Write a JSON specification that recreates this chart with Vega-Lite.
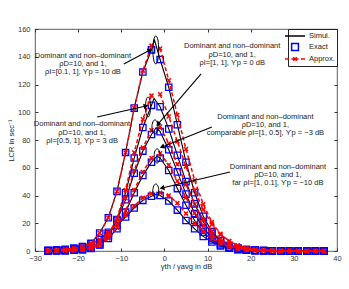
{
"$schema":"https://vega.github.io/schema/vega-lite/v6.json",
"width":302,"height":222,
"autosize":{"type":"none"},
"padding":{"left":35,"top":29,"right":12,"bottom":38},
"background":"white",
"config":{"font":"Liberation Sans","view":{"stroke":"#333","strokeWidth":0.8},
 "axis":{"labelFont":"Liberation Sans","labelFontSize":7.5,"labelColor":"#333","titleFont":"Liberation Sans","titleFontSize":7.5,"titleFontWeight":"normal","titleColor":"#222","tickColor":"#333","grid":false,"domain":false},
 "legend":{"orient":"top-right","offset":0,"padding":2,"strokeColor":"#222","fillColor":"white","labelFont":"Liberation Sans","labelFontSize":7.5,"labelColor":"#222","symbolSize":64,"symbolStrokeWidth":1.5,"symbolOpacity":1,"rowPadding":0,"labelOffset":9,"title":null,"symbolFillColor":"transparent"}},
"datasets":{
"curves":[
{"c":1,"x":-27,"sim":0.3,"ex":0.3,"ap":0.3},{"c":1,"x":-25,"sim":0.5,"ex":0.5,"ap":0.5},{"c":1,"x":-23,"sim":0.8,"ex":0.8,"ap":0.8},{"c":1,"x":-21,"sim":1.5,"ex":1.5,"ap":1.5},{"c":1,"x":-19,"sim":2.7,"ex":2.7,"ap":2.7},{"c":1,"x":-17,"sim":5.5,"ex":5.5,"ap":5.5},{"c":1,"x":-15,"sim":13,"ex":13,"ap":13},{"c":1,"x":-13,"sim":24,"ex":24,"ap":24},{"c":1,"x":-11,"sim":43,"ex":43,"ap":43},{"c":1,"x":-9,"sim":71,"ex":71,"ap":71},{"c":1,"x":-7,"sim":103,"ex":103,"ap":103},{"c":1,"x":-5,"sim":129,"ex":129,"ap":130},{"c":1,"x":-3,"sim":145,"ex":145,"ap":148},{"c":1,"x":-2.3,"sim":152},{"c":1,"x":-1,"sim":138,"ex":138,"ap":146},{"c":1,"x":1,"sim":118,"ex":118,"ap":123},{"c":1,"x":3,"sim":91,"ex":91,"ap":98},{"c":1,"x":5,"sim":64,"ex":64,"ap":73.5},{"c":1,"x":7,"sim":42,"ex":42,"ap":51},{"c":1,"x":9,"sim":25,"ex":25,"ap":33.7},{"c":1,"x":11,"sim":14,"ex":14,"ap":20.8},{"c":1,"x":13,"sim":7.6,"ex":7.6,"ap":12.4},{"c":1,"x":15,"sim":4,"ex":4,"ap":7},{"c":1,"x":17,"sim":2,"ex":2,"ap":3.8},{"c":1,"x":19,"sim":1,"ex":1,"ap":2},{"c":1,"x":21,"sim":0.5,"ex":0.5,"ap":1.1},{"c":1,"x":23,"sim":0.3,"ex":0.3,"ap":0.6},{"c":1,"x":25,"sim":0.2,"ex":0.2,"ap":0.3},{"c":1,"x":27,"sim":0.1,"ex":0.1,"ap":0.15},{"c":1,"x":29,"sim":0,"ex":0,"ap":0.1},{"c":1,"x":31,"sim":0,"ex":0,"ap":0},{"c":1,"x":33,"sim":0,"ex":0,"ap":0},{"c":1,"x":35,"sim":0,"ex":0,"ap":0},{"c":1,"x":37,"sim":0,"ex":0,"ap":0},
{"c":2,"x":-27,"sim":0.1,"ex":0.1,"ap":0.1},{"c":2,"x":-25,"sim":0.2,"ex":0.2,"ap":0.2},{"c":2,"x":-23,"sim":0.3,"ex":0.3,"ap":0.3},{"c":2,"x":-21,"sim":0.5,"ex":0.5,"ap":0.5},{"c":2,"x":-19,"sim":1,"ex":1,"ap":1},{"c":2,"x":-17,"sim":2,"ex":2,"ap":2},{"c":2,"x":-15,"sim":4.4,"ex":4.4,"ap":4.4},{"c":2,"x":-13,"sim":11,"ex":11,"ap":11},{"c":2,"x":-11,"sim":22.6,"ex":22.6,"ap":23.5},{"c":2,"x":-9,"sim":42,"ex":42,"ap":44},{"c":2,"x":-7,"sim":67,"ex":67,"ap":71},{"c":2,"x":-5,"sim":89,"ex":89,"ap":95},{"c":2,"x":-3,"sim":105,"ex":105,"ap":112},{"c":2,"x":-2.4,"sim":110},{"c":2,"x":-1,"sim":104,"ex":104,"ap":113},{"c":2,"x":1,"sim":88,"ex":88,"ap":97},{"c":2,"x":3,"sim":69,"ex":69,"ap":79},{"c":2,"x":5,"sim":50,"ex":50,"ap":61},{"c":2,"x":7,"sim":34,"ex":34,"ap":43.7},{"c":2,"x":9,"sim":21,"ex":21,"ap":30},{"c":2,"x":11,"sim":12.6,"ex":12.6,"ap":19.2},{"c":2,"x":13,"sim":7.3,"ex":7.3,"ap":11.8},{"c":2,"x":15,"sim":4,"ex":4,"ap":7.2},{"c":2,"x":17,"sim":2.1,"ex":2.1,"ap":4.1},{"c":2,"x":19,"sim":1.1,"ex":1.1,"ap":2.2},{"c":2,"x":21,"sim":0.6,"ex":0.6,"ap":1.2},{"c":2,"x":23,"sim":0.3,"ex":0.3,"ap":0.7},{"c":2,"x":25,"sim":0.2,"ex":0.2,"ap":0.35},{"c":2,"x":27,"sim":0.1,"ex":0.1,"ap":0.2},{"c":2,"x":29,"sim":0,"ex":0,"ap":0.1},{"c":2,"x":31,"sim":0,"ex":0,"ap":0},{"c":2,"x":33,"sim":0,"ex":0,"ap":0},{"c":2,"x":35,"sim":0,"ex":0,"ap":0},{"c":2,"x":37,"sim":0,"ex":0,"ap":0},
{"c":3,"x":-27,"sim":0.2,"ex":0.2,"ap":0.2},{"c":3,"x":-25,"sim":0.3,"ex":0.3,"ap":0.3},{"c":3,"x":-23,"sim":0.4,"ex":0.4,"ap":0.4},{"c":3,"x":-21,"sim":0.8,"ex":0.8,"ap":0.8},{"c":3,"x":-19,"sim":1.4,"ex":1.4,"ap":1.4},{"c":3,"x":-17,"sim":2.7,"ex":2.7,"ap":2.7},{"c":3,"x":-15,"sim":6.2,"ex":6.2,"ap":6.2},{"c":3,"x":-13,"sim":12.3,"ex":12.3,"ap":12.3},{"c":3,"x":-11,"sim":22,"ex":22,"ap":23},{"c":3,"x":-9,"sim":37,"ex":37,"ap":38},{"c":3,"x":-7,"sim":56,"ex":56,"ap":58},{"c":3,"x":-5,"sim":72,"ex":72,"ap":74.5},{"c":3,"x":-3,"sim":84,"ex":84,"ap":87},{"c":3,"x":-1.9,"sim":89},{"c":3,"x":-1,"sim":86,"ex":86,"ap":89.5},{"c":3,"x":1,"sim":73,"ex":73,"ap":77.5},{"c":3,"x":3,"sim":57,"ex":57,"ap":62.5},{"c":3,"x":5,"sim":41,"ex":41,"ap":48},{"c":3,"x":7,"sim":27,"ex":27,"ap":33.7},{"c":3,"x":9,"sim":16.6,"ex":16.6,"ap":22.7},{"c":3,"x":11,"sim":9.5,"ex":9.5,"ap":14.2},{"c":3,"x":13,"sim":5.2,"ex":5.2,"ap":8.5},{"c":3,"x":15,"sim":2.7,"ex":2.7,"ap":4.8},{"c":3,"x":17,"sim":1.4,"ex":1.4,"ap":2.7},{"c":3,"x":19,"sim":0.7,"ex":0.7,"ap":1.5},{"c":3,"x":21,"sim":0.4,"ex":0.4,"ap":0.8},{"c":3,"x":23,"sim":0.25,"ex":0.25,"ap":0.45},{"c":3,"x":25,"sim":0.15,"ex":0.15,"ap":0.25},{"c":3,"x":27,"sim":0.1,"ex":0.1,"ap":0.15},{"c":3,"x":29,"sim":0,"ex":0,"ap":0.1},{"c":3,"x":31,"sim":0,"ex":0,"ap":0},{"c":3,"x":33,"sim":0,"ex":0,"ap":0},{"c":3,"x":35,"sim":0,"ex":0,"ap":0},{"c":3,"x":37,"sim":0,"ex":0,"ap":0},
{"c":4,"x":-27,"sim":0.14,"ex":0.14,"ap":0.14},{"c":4,"x":-25,"sim":0.2,"ex":0.2,"ap":0.2},{"c":4,"x":-23,"sim":0.3,"ex":0.3,"ap":0.3},{"c":4,"x":-21,"sim":0.55,"ex":0.55,"ap":0.55},{"c":4,"x":-19,"sim":1,"ex":1,"ap":1},{"c":4,"x":-17,"sim":1.9,"ex":1.9,"ap":1.9},{"c":4,"x":-15,"sim":4.5,"ex":4.5,"ap":4.5},{"c":4,"x":-13,"sim":9,"ex":9,"ap":9},{"c":4,"x":-11,"sim":16,"ex":16,"ap":16.7},{"c":4,"x":-9,"sim":28,"ex":28,"ap":29},{"c":4,"x":-7,"sim":42,"ex":42,"ap":44},{"c":4,"x":-5,"sim":54.5,"ex":54.5,"ap":57},{"c":4,"x":-3,"sim":64,"ex":64,"ap":67},{"c":4,"x":-1.7,"sim":68.5},{"c":4,"x":-1,"sim":67,"ex":67,"ap":70.4},{"c":4,"x":1,"sim":58,"ex":58,"ap":62},{"c":4,"x":3,"sim":45,"ex":45,"ap":50.4},{"c":4,"x":5,"sim":33,"ex":33,"ap":38.5},{"c":4,"x":7,"sim":22,"ex":22,"ap":27.4},{"c":4,"x":9,"sim":13.6,"ex":13.6,"ap":18.6},{"c":4,"x":11,"sim":7.9,"ex":7.9,"ap":11.5},{"c":4,"x":13,"sim":4.3,"ex":4.3,"ap":6.9},{"c":4,"x":15,"sim":2.3,"ex":2.3,"ap":3.9},{"c":4,"x":17,"sim":1.1,"ex":1.1,"ap":2.2},{"c":4,"x":19,"sim":0.55,"ex":0.55,"ap":1.2},{"c":4,"x":21,"sim":0.3,"ex":0.3,"ap":0.65},{"c":4,"x":23,"sim":0.2,"ex":0.2,"ap":0.35},{"c":4,"x":25,"sim":0.1,"ex":0.1,"ap":0.2},{"c":4,"x":27,"sim":0.05,"ex":0.05,"ap":0.1},{"c":4,"x":29,"sim":0,"ex":0,"ap":0},{"c":4,"x":31,"sim":0,"ex":0,"ap":0},{"c":4,"x":33,"sim":0,"ex":0,"ap":0},{"c":4,"x":35,"sim":0,"ex":0,"ap":0},{"c":4,"x":37,"sim":0,"ex":0,"ap":0},
{"c":5,"x":-27,"sim":0.5,"ex":0.5,"ap":0.5},{"c":5,"x":-25,"sim":0.8,"ex":0.8,"ap":0.8},{"c":5,"x":-23,"sim":1.3,"ex":1.3,"ap":1.3},{"c":5,"x":-21,"sim":2.1,"ex":2.1,"ap":2.1},{"c":5,"x":-19,"sim":3.2,"ex":3.2,"ap":3.2},{"c":5,"x":-17,"sim":5.2,"ex":5.2,"ap":5.2},{"c":5,"x":-15,"sim":8.3,"ex":8.3,"ap":8.3},{"c":5,"x":-13,"sim":13.5,"ex":13.5,"ap":13.5},{"c":5,"x":-11,"sim":18.5,"ex":18.5,"ap":19.4},{"c":5,"x":-9,"sim":24.5,"ex":24.5,"ap":25.7},{"c":5,"x":-7,"sim":31,"ex":31,"ap":32.5},{"c":5,"x":-5,"sim":36.5,"ex":36.5,"ap":38.3},{"c":5,"x":-3,"sim":39.5,"ex":39.5,"ap":41.5},{"c":5,"x":-1.8,"sim":41},{"c":5,"x":-1,"sim":40,"ex":40,"ap":42},{"c":5,"x":1,"sim":36,"ex":36,"ap":40},{"c":5,"x":3,"sim":29.5,"ex":29.5,"ap":34.5},{"c":5,"x":5,"sim":22,"ex":22,"ap":27},{"c":5,"x":7,"sim":16,"ex":16,"ap":20},{"c":5,"x":9,"sim":10.5,"ex":10.5,"ap":14},{"c":5,"x":11,"sim":6.5,"ex":6.5,"ap":9},{"c":5,"x":13,"sim":3.6,"ex":3.6,"ap":5.5},{"c":5,"x":15,"sim":2,"ex":2,"ap":3.1},{"c":5,"x":17,"sim":1,"ex":1,"ap":1.6},{"c":5,"x":19,"sim":0.5,"ex":0.5,"ap":0.8},{"c":5,"x":21,"sim":0.25,"ex":0.25,"ap":0.4},{"c":5,"x":23,"sim":0.15,"ex":0.15,"ap":0.2},{"c":5,"x":25,"sim":0.1,"ex":0.1,"ap":0.1},{"c":5,"x":27,"sim":0.05,"ex":0.05,"ap":0.05},{"c":5,"x":29,"sim":0,"ex":0,"ap":0},{"c":5,"x":31,"sim":0,"ex":0,"ap":0},{"c":5,"x":33,"sim":0,"ex":0,"ap":0},{"c":5,"x":35,"sim":0,"ex":0,"ap":0},{"c":5,"x":37,"sim":0,"ex":0,"ap":0}
],
"ann":[
{"t":"Dominant and non–dominant\nρD=10, and 1,\nρI=[0.1, 1], ϒp = 10 dB","x":-18.9,"y":140.9},
{"t":"Dominant and non–dominant\nρD=10, and 1,\nρI=[0.5, 1], ϒp = 3 dB","x":-19.1,"y":91.2},
{"t":"Dominant and non–dominant\nρD=10, and 1,\nρI=[1, 1], ϒp = 0 dB","x":15.7,"y":147.4},
{"t":"Dominant and non–dominant\nρD=10, and 1,\ncomparable ρI=[1, 0.5], ϒp = −3 dB","x":23.4,"y":96.9},
{"t":"Dominant and non–dominant\nρD=10, and 1,\nfar ρI=[1, 0.1], ϒp = −10 dB","x":26.3,"y":60.5}
],
"arrows":[
{"x":-9.4,"y":134.8,"x2":-3.34,"y2":144.9,"ang":61.7},
{"x":-15.6,"y":96.6,"x2":-4.27,"y2":104.5,"ang":77.3},
{"x":8.5,"y":127.6,"x2":-1.5,"y2":91.4,"ang":220.7},
{"x":11,"y":89.4,"x2":-0.56,"y2":75,"ang":247.6},
{"x":15.2,"y":57,"x2":-0.56,"y2":45.4,"ang":256.8}
],
"ell":[
{"k":"a","x":-2,"y":144.9},
{"k":"b","x":-3.8,"y":103.8},
{"k":"c","x":-2.2,"y":89.4},
{"k":"c","x":-1.7,"y":68.5},
{"k":"c","x":-2,"y":43.2}
]},
"resolve":{"axis":{"x":"independent","y":"independent"}},
"layer":[
{"data":{"name":"curves"},"mark":{"type":"line","color":"black","strokeWidth":1.1},
 "encoding":{"x":{"field":"x","type":"quantitative","scale":{"domain":[-30,40],"nice":false,"zero":false},
   "axis":{"orient":"bottom","values":[-30,-20,-10,0,10,20,30,40],"title":"γth / γavg in dB","tickSize":-3,"labelPadding":6,"titlePadding":1,"labelFlush":false}},
  "y":{"field":"sim","type":"quantitative","scale":{"domain":[0,160],"nice":false},
   "axis":{"orient":"left","values":[0,20,40,60,80,100,120,140,160],"title":"LCR in sec⁻¹","tickSize":-3,"labelPadding":8,"titlePadding":2}},
  "detail":{"field":"c"}}},
{"data":{"name":"curves"},"mark":{"type":"point","shape":"square","filled":false,"color":"#0000ff","size":40,"strokeWidth":1.3,"opacity":1},
 "encoding":{"x":{"field":"x","type":"quantitative","axis":null},"y":{"field":"ex","type":"quantitative","axis":null}}},
{"data":{"name":"curves"},"mark":{"type":"line","color":"#ff0000","strokeWidth":1.5,"strokeDash":[4,2.5]},
 "encoding":{"x":{"field":"x","type":"quantitative","axis":null},"y":{"field":"ap","type":"quantitative","axis":null},"detail":{"field":"c"}}},
{"data":{"name":"curves"},"mark":{"type":"point","shape":"M-1,-1L1,1M1,-1L-1,1","filled":false,"color":"#ff0000","size":16,"strokeWidth":1.5,"opacity":1},
 "encoding":{"x":{"field":"x","type":"quantitative","axis":null},"y":{"field":"ap","type":"quantitative","axis":null}}},
{"data":{"name":"ell"},"transform":[{"filter":"datum.k=='a'"}],"mark":{"type":"point","shape":"M0,-1C0.116,-1 0.21,-0.552 0.21,0C0.21,0.552 0.116,1 0,1C-0.116,1 -0.21,0.552 -0.21,0C-0.21,-0.552 -0.116,-1 0,-1Z","filled":false,"color":"black","size":784,"strokeWidth":1,"opacity":1},
 "encoding":{"x":{"field":"x","type":"quantitative","axis":null},"y":{"field":"y","type":"quantitative","axis":null}}},
{"data":{"name":"ell"},"transform":[{"filter":"datum.k=='b'"}],"mark":{"type":"point","shape":"M0,-1C0.138,-1 0.25,-0.552 0.25,0C0.25,0.552 0.138,1 0,1C-0.138,1 -0.25,0.552 -0.25,0C-0.25,-0.552 -0.138,-1 0,-1Z","filled":false,"color":"black","size":400,"strokeWidth":1,"opacity":1},
 "encoding":{"x":{"field":"x","type":"quantitative","axis":null},"y":{"field":"y","type":"quantitative","axis":null}}},
{"data":{"name":"ell"},"transform":[{"filter":"datum.k=='c'"}],"mark":{"type":"point","shape":"M0,-1C0.232,-1 0.42,-0.552 0.42,0C0.42,0.552 0.232,1 0,1C-0.232,1 -0.42,0.552 -0.42,0C-0.42,-0.552 -0.232,-1 0,-1Z","filled":false,"color":"black","size":200,"strokeWidth":1,"opacity":1},
 "encoding":{"x":{"field":"x","type":"quantitative","axis":null},"y":{"field":"y","type":"quantitative","axis":null}}},
{"data":{"name":"arrows"},"mark":{"type":"rule","color":"black","strokeWidth":1.1},
 "encoding":{"x":{"field":"x","type":"quantitative","axis":null},"y":{"field":"y","type":"quantitative","axis":null},"x2":{"field":"x2"},"y2":{"field":"y2"}}},
{"data":{"name":"arrows"},"mark":{"type":"point","shape":"triangle-up","filled":true,"color":"black","size":30,"opacity":1},
 "encoding":{"x":{"field":"x2","type":"quantitative","axis":null},"y":{"field":"y2","type":"quantitative","axis":null},"angle":{"field":"ang","type":"quantitative","scale":null}}},
{"data":{"name":"ann"},"mark":{"type":"text","font":"Liberation Sans","fontSize":7.5,"color":"#222","align":"center","baseline":"middle","lineBreak":"\n","lineHeight":8.2},
 "encoding":{"x":{"field":"x","type":"quantitative","axis":null},"y":{"field":"y","type":"quantitative","axis":null},"text":{"field":"t"}}},
{"data":{"name":"curves"},"transform":[{"fold":["sim","ex","ap"],"as":["s","v"]}],
 "mark":{"type":"point","opacity":0,"filled":false},
 "encoding":{"x":{"field":"x","type":"quantitative","axis":{"orient":"top","values":[-30,-20,-10,0,10,20,30,40],"labels":false,"title":null,"tickSize":-3}},
  "y":{"field":"v","type":"quantitative","axis":{"orient":"right","values":[0,20,40,60,80,100,120,140,160],"labels":false,"title":null,"tickSize":-3}},
  "color":{"field":"s","type":"nominal","scale":{"domain":["sim","ex","ap"],"range":["black","#0000ff","#ff0000"]},
   "legend":{"labelExpr":"datum.label=='sim'?'Simul.':datum.label=='ex'?'Exact':'Approx.'"}},
  "shape":{"field":"s","type":"nominal","scale":{"domain":["sim","ex","ap"],"range":["M-2.5,0H2.5","M-0.85,-0.85H0.85V0.85H-0.85Z","M-2.5,0H-1.5M-0.9,0H0.9M1.5,0H2.5M-0.45,-0.45L0.45,0.45M0.45,-0.45L-0.45,0.45"]}}}}
]
}
